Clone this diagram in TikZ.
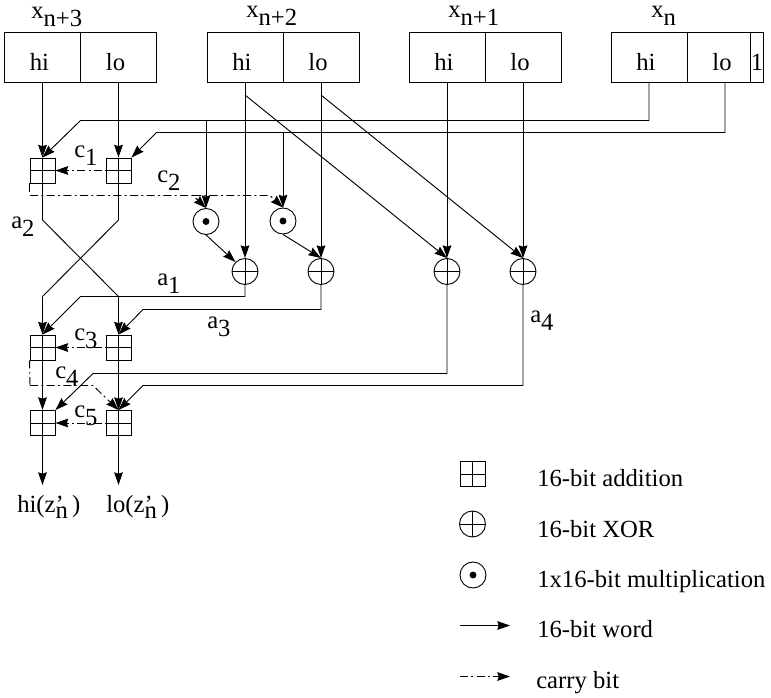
\documentclass[tikz,border=0pt]{standalone}
\usepackage{fontspec}
\setmainfont{Liberation Serif}
\usetikzlibrary{arrows.meta}

\newcommand{\lowsub}[2]{#1\raisebox{-6.5pt}{#2}}
\newcommand{\celltext}[1]{#1\hspace*{4.5pt}}

\tikzset{
	word/.style={line width=0.7pt, -{Stealth[length=9.5pt, width=6.5pt, inset=1pt]}},
	plain/.style={line width=0.7pt},
	carry/.style={word, dash pattern=on 6pt off 2.5pt on 1.5pt off 2.5pt},
	carryline/.style={plain, dash pattern=on 6pt off 2.5pt on 1.5pt off 2.5pt},
	half/.style={draw, line width=0.7pt, minimum width=57pt, minimum height=37.5pt, inner sep=0pt, text height=20pt, text depth=0.5pt},
	tag/.style={anchor=base west, inner sep=0pt},
	adder/.style={draw, line width=0.7pt, minimum size=18.75pt, inner sep=0pt, path picture={
		\draw (path picture bounding box.north) -- (path picture bounding box.south);
		\draw (path picture bounding box.west) -- (path picture bounding box.east);}},
	xorop/.style={draw, circle, line width=0.7pt, minimum size=19.5pt, inner sep=0pt, path picture={
		\draw (path picture bounding box.north) -- (path picture bounding box.south);
		\draw (path picture bounding box.west) -- (path picture bounding box.east);}},
	multop/.style={draw, circle, line width=0.7pt, minimum size=19.5pt, inner sep=0pt, path picture={
		\fill (path picture bounding box.center) circle (2.6pt);}},
}

\begin{document}
\begin{tikzpicture}[x=0.75pt, y=-0.75pt, font=\fontsize{18.5}{20}\selectfont]

	\useasboundingbox (0,0) rectangle (771,697);

	\draw (42.5,57) node[half] (hi3) {\celltext{hi}} ;
	\draw (118.5,57) node[half] (lo3) {\celltext{lo}} ;
	\draw (245,57) node[half] (hi2) {\celltext{hi}} ;
	\draw (321,57) node[half] (lo2) {\celltext{lo}} ;
	\draw (447,57) node[half] (hi1) {\celltext{hi}} ;
	\draw (523,57) node[half] (lo1) {\celltext{lo}} ;
	\draw (649,57) node[half] (hi0) {\celltext{hi}} ;
	\draw (725,57) node[half] (lo0) {\celltext{lo}} ;
	\draw (757,57) node[half, minimum width=9.5pt] (one0) {1} ;

	\draw (42.5,170.5) node[adder] (add11) {} ;
	\draw (118.5,170.5) node[adder] (add12) {} ;
	\draw (42.5,347.5) node[adder] (add21) {} ;
	\draw (118.5,347.5) node[adder] (add22) {} ;
	\draw (42.5,423) node[adder] (add31) {} ;
	\draw (118.5,423) node[adder] (add32) {} ;

	\draw (206,221.5) node[multop] (mult1) {} ;
	\draw (283,221) node[multop] (mult2) {} ;
	\draw (245,271.5) node[xorop] (xor1) {} ;
	\draw (321,271.5) node[xorop] (xor2) {} ;
	\draw (447,271.5) node[xorop] (xor3) {} ;
	\draw (523,271.5) node[xorop] (xor4) {} ;

	\coordinate (k1) at (80.5,120.5);
	\coordinate (k2) at (156.5,132.5);
	\coordinate (k3) at (42.5,220);
	\coordinate (k4) at (118.5,220);
	\coordinate (k5) at (42.5,296.5);
	\coordinate (k6) at (118.5,296.5);
	\coordinate (k7) at (80.5,296.5);
	\coordinate (k8) at (143,309.5);
	\coordinate (k9) at (93,373.5);
	\coordinate (k10) at (143,385.5);
	\coordinate (k11) at (30,195.5);
	\coordinate (k12) at (193,195.5);
	\coordinate (k13) at (270,195.5);
	\coordinate (k14) at (30,385.5);
	\coordinate (k15) at (93,385.5);
	\coordinate (k16) at (245,95);
	\coordinate (k17) at (321,95);
	\coordinate (outhi) at (42.5,485);
	\coordinate (outlo) at (118.5,485);

	\draw [word] (hi3.south) -- (add11.north);
	\draw [word] (lo3.south) -- (add12.north);
	\draw [word] (hi2.south) -- (xor1.north);
	\draw [word] (lo2.south) -- (xor2.north);
	\draw [word] (hi1.south) -- (xor3.north);
	\draw [word] (lo1.south) -- (xor4.north);
	\draw [word] (k16) -- (xor3.north);
	\draw [word] (k17) -- (xor4.north);

	\draw [word] (hi0.south) |- (k1) -- (add11.north);
	\draw [word] (lo0.south) |- (k2) -- (add12.north east);
	\draw [word] (mult1 |- k1) -- (mult1.north);
	\draw [word] (mult2 |- k2) -- (mult2.north);

	\draw [word] (mult1.south) -- (xor1.north west);
	\draw [word] (mult2.south) -- (xor2.north);

	\draw [plain] (add11.south) -- (k3) -- (k6);
	\draw [plain] (add12.south) -- (k4) -- (k5);
	\draw [word] (k5) -- (add21.north);
	\draw [word] (k6) -- (add22.north);

	\draw [word] (xor1.south) |- (k7) -- (add21.north);
	\draw [word] (xor2.south) |- (k8) -- (add22.north);
	\draw [word] (xor3.south) |- (k9) -- (add31.north east);
	\draw [word] (xor4.south) |- (k10) -- (add32.north);

	\draw [word] (add21.south) -- (add31.north);
	\draw [word] (add22.south) -- (add32.north);
	\draw [word] (add31.south) -- (outhi);
	\draw [word] (add32.south) -- (outlo);

	\draw [carry] (add12.center) -- (add11.east);
	\draw [carry] (add22.center) -- (add21.east);
	\draw [carry] (add32.center) -- (add31.east);
	\draw [plain] (add11.south west) -- ++(0,9);
	\draw [carry] (k11) -- (k12) -- (mult1.north);
	\draw [carry] (k12) -- (k13) -- (mult2.north);
	\draw [carryline] (add21.south west) -- (k14);
	\draw [carry] (k14) -- (k15) -- (add32.north);

	\draw (31,18) node[tag] (xn3) {\lowsub{x}{n+3}} ;
	\draw (246,17) node[tag] (xn2) {\lowsub{x}{n+2}} ;
	\draw (448,17) node[tag] (xn1) {\lowsub{x}{n+1}} ;
	\draw (651,17) node[tag] (xn0) {\lowsub{x}{n}} ;

	\draw (74,157) node[tag] (c1) {\lowsub{c}{1}} ;
	\draw (157,182) node[tag] (c2) {\lowsub{c}{2}} ;
	\draw (74,340) node[tag] (c3) {\lowsub{c}{3}} ;
	\draw (55,378) node[tag] (c4) {\lowsub{c}{4}} ;
	\draw (74,417) node[tag] (c5) {\lowsub{c}{5}} ;
	\draw (11,228) node[tag] (a2) {\lowsub{a}{2}} ;
	\draw (157,285) node[tag] (a1) {\lowsub{a}{1}} ;
	\draw (207,328) node[tag] (a3) {\lowsub{a}{3}} ;
	\draw (530,322) node[tag] (a4) {\lowsub{a}{4}} ;

	\draw (17,512) node[tag] (hiz) {hi(z\rlap{'}\raisebox{-5pt}{n}\,)} ;
	\draw (106,512) node[tag] (loz) {lo(z\rlap{'}\raisebox{-5pt}{n}\,)} ;

	\draw (472.5,474) node[adder] (keyadd) {} ;
	\draw (472.5,524) node[xorop] (keyxor) {} ;
	\draw (473,575) node[multop] (keymult) {} ;
	\coordinate (keya) at (460,625.5);
	\coordinate (keyb) at (510,625.5);
	\coordinate (keyc) at (460,676.5);
	\coordinate (keyd) at (510,676.5);
	\draw [word] (keya) -- (keyb);
	\draw [carry] (keyc) -- (keyd);

	\draw (537,486) node[tag] (t1) {16-bit addition} ;
	\draw (537,537) node[tag] (t2) {16-bit XOR} ;
	\draw (537,587) node[tag] (t3) {1x16-bit multiplication} ;
	\draw (537,637) node[tag] (t4) {16-bit word} ;
	\draw (536,688) node[tag] (t5) {carry bit} ;

\end{tikzpicture}
\end{document}
